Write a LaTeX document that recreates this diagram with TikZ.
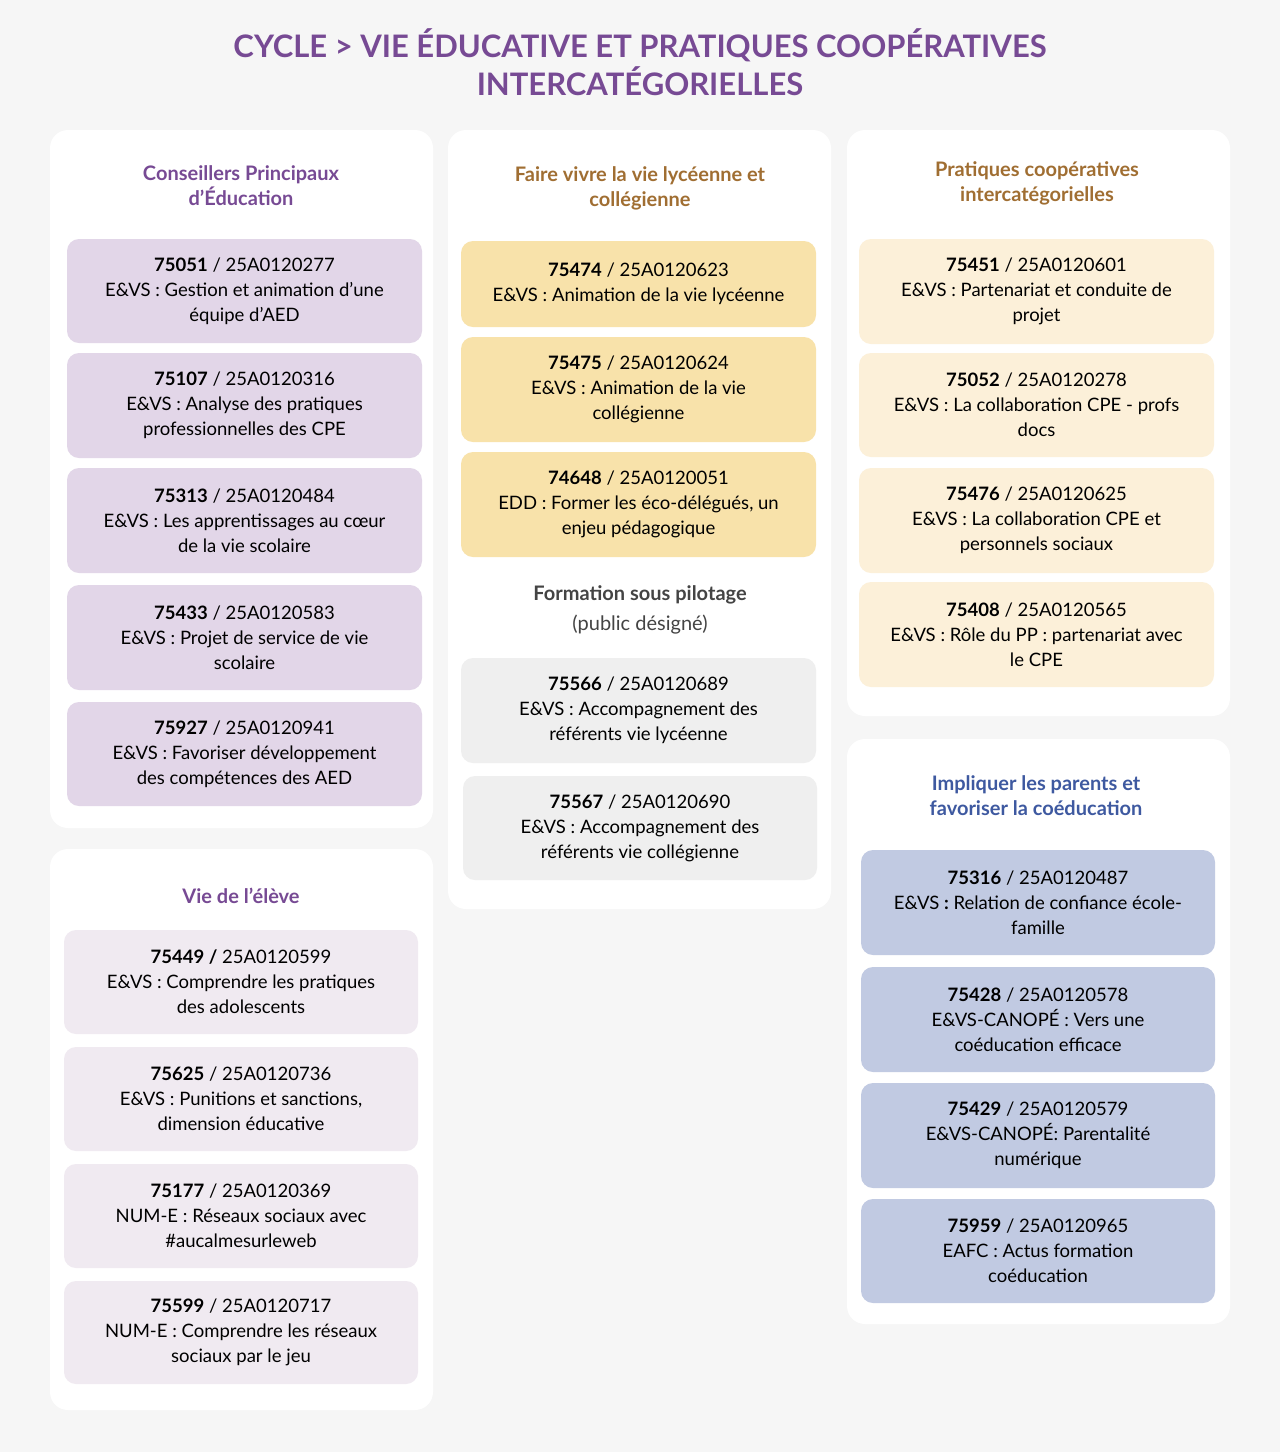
\documentclass[tikz,border=0pt]{standalone}
\usepackage{fontspec}
\setmainfont{Lato}
\definecolor{bg}{HTML}{F6F6F6}
\definecolor{ttl}{HTML}{774A94}
\definecolor{brn}{HTML}{A06E32}
\definecolor{blu}{HTML}{3E59A0}
\definecolor{dgr}{HTML}{444444}
\definecolor{cpur}{HTML}{E2D6E8}
\definecolor{clav}{HTML}{F0EAF1}
\definecolor{cyel}{HTML}{F8E2AA}
\definecolor{clye}{HTML}{FCF0D9}
\definecolor{cgry}{HTML}{EFEFEF}
\definecolor{cblu}{HTML}{C1CAE2}
\tikzset{
 panel/.style={fill=white,draw=none,rounded corners=18pt},
 cbox/.style={draw=none,rounded corners=12pt,align=center,font=\fontsize{18.5}{25}\selectfont,text=black,inner sep=0pt},
 head/.style={align=center,font=\fontsize{20}{25}\selectfont\bfseries},
}
\newcommand\cb[7]{\node[cbox,fill=#6,minimum width={#4-#2},minimum height={#5-#3}] (#1) at ({(#2+#4)/2},{(#3+#5)/2}) {#7};}
\begin{document}
\begin{tikzpicture}[x=1pt,y=-1pt]
\fill[bg] (0,0) rectangle (1280,1452);
\useasboundingbox (0,0) rectangle (1280,1452);
\node[font=\fontsize{31}{38}\selectfont\bfseries,text=ttl,align=center] (title) at (640,62) {CYCLE > VIE ÉDUCATIVE ET PRATIQUES COOPÉRATIVES\\INTERCATÉGORIELLES};
% panels
\fill[panel] (50,130) rectangle (433,828);
\fill[panel] (50,849) rectangle (433,1410);
\fill[panel] (448,130) rectangle (831,909);
\fill[panel] (847,130) rectangle (1230,716);
\fill[panel] (847,739) rectangle (1230,1324);
% headings
\node[head,text=ttl] (h1) at (241,186) {Conseillers Principaux\\d’Éducation};
\node[head,text=ttl] (h2) at (241,896) {Vie de l’élève};
\node[head,text=brn] (h3) at (640,188) {Faire vivre la vie lycéenne et\\collégienne};
\node[head,text=dgr,font=\fontsize{20}{30}\selectfont] (h4) at (640,610) {\textbf{Formation sous pilotage}\\(public désigné)};
\node[head,text=brn] (h5) at (1037,183) {Pratiques coopératives\\intercatégorielles};
\node[head,text=blu] (h6) at (1036,796) {Impliquer les parents et\\favoriser la coéducation};
% left
\cb{a1}{67}{239}{422}{343}{cpur}{\textbf{75051} / 25A0120277\\E\&VS : Gestion et animation d’une\\équipe d’AED}
\cb{a2}{67}{353}{422}{458}{cpur}{\textbf{75107} / 25A0120316\\E\&VS : Analyse des pratiques\\professionnelles des CPE}
\cb{a3}{67}{468}{422}{573}{cpur}{\textbf{75313} / 25A0120484\\E\&VS : Les apprentissages au cœur\\de la vie scolaire}
\cb{a4}{67}{585}{422}{690}{cpur}{\textbf{75433} / 25A0120583\\E\&VS : Projet de service de vie\\scolaire}
\cb{a5}{67}{702}{422}{806}{cpur}{\textbf{75927} / 25A0120941\\E\&VS : Favoriser développement\\des compétences des AED}
\cb{b1}{64}{930}{418}{1034}{clav}{\textbf{75449 /} 25A0120599\\E\&VS : Comprendre les pratiques\\des adolescents}
\cb{b2}{64}{1047}{418}{1151}{clav}{\textbf{75625} / 25A0120736\\E\&VS : Punitions et sanctions,\\dimension éducative}
\cb{b3}{64}{1164}{418}{1268}{clav}{\textbf{75177} / 25A0120369\\NUM-E : Réseaux sociaux avec\\\#aucalmesurleweb}
\cb{b4}{64}{1281}{418}{1384}{clav}{\textbf{75599} / 25A0120717\\NUM-E : Comprendre les réseaux\\sociaux par le jeu}
% middle
\cb{c1}{461}{241}{816}{327}{cyel}{\textbf{75474} / 25A0120623\\E\&VS : Animation de la vie lycéenne}
\cb{c2}{461}{337}{816}{442}{cyel}{\textbf{75475} / 25A0120624\\E\&VS : Animation de la vie\\collégienne}
\cb{c3}{461}{452}{816}{557}{cyel}{\textbf{74648} / 25A0120051\\EDD : Former les éco-délégués, un\\enjeu pédagogique}
\cb{d1}{461}{658}{816}{763}{cgry}{\textbf{75566} / 25A0120689\\E\&VS : Accompagnement des\\référents vie lycéenne}
\cb{d2}{463}{776}{817}{880}{cgry}{\textbf{75567} / 25A0120690\\E\&VS : Accompagnement des\\référents vie collégienne}
% right
\cb{e1}{859}{239}{1214}{344}{clye}{\textbf{75451} / 25A0120601\\E\&VS : Partenariat et conduite de\\projet}
\cb{e2}{859}{353}{1214}{457}{clye}{\textbf{75052} / 25A0120278\\E\&VS : La collaboration CPE - profs\\docs}
\cb{e3}{859}{468}{1214}{573}{clye}{\textbf{75476} / 25A0120625\\E\&VS : La collaboration CPE et\\personnels sociaux}
\cb{e4}{859}{582}{1214}{687}{clye}{\textbf{75408} / 25A0120565\\E\&VS : Rôle du PP : partenariat avec\\le CPE}
\cb{f1}{861}{850}{1215}{955}{cblu}{\textbf{75316} / 25A0120487\\E\&VS \textbf{:} Relation de confiance école-\\famille}
\cb{f2}{861}{967}{1215}{1072}{cblu}{\textbf{75428} / 25A0120578\\E\&VS-CANOPÉ : Vers une\\coéducation efficace}
\cb{f3}{861}{1083}{1215}{1188}{cblu}{\textbf{75429} / 25A0120579\\E\&VS-CANOPÉ: Parentalité\\numérique}
\cb{f4}{861}{1199}{1215}{1303}{cblu}{\textbf{75959} / 25A0120965\\EAFC : Actus formation\\coéducation}
\end{tikzpicture}
\end{document}
